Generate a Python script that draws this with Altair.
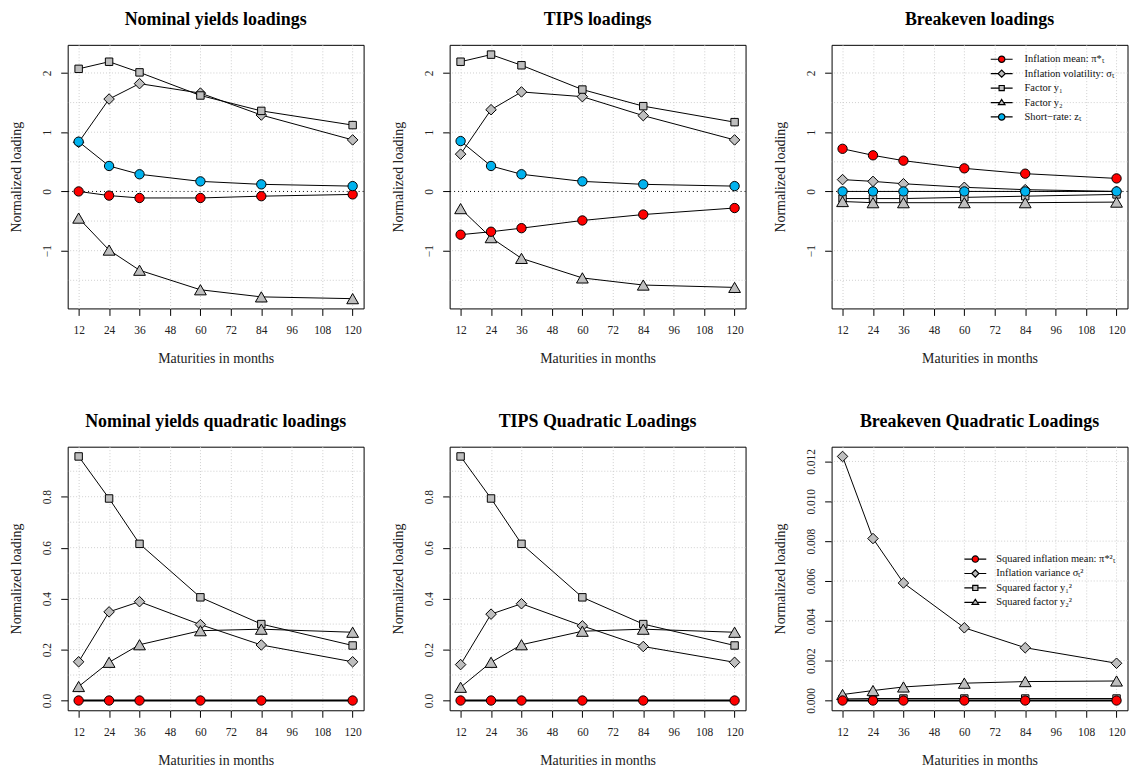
import altair as alt
import pandas as pd

# ---------------- data ----------------
MATURITIES = [12, 24, 36, 60, 84, 120]
X_TICKS = [12, 24, 36, 48, 60, 72, 84, 96, 108, 120]

TOP_NAMES = ["Inflation mean: π*ₜ", "Inflation volatility: σₜ", "Factor y₁",
             "Factor y₂", "Short−rate: zₜ"]
BOT_NAMES = ["Squared inflation mean: π*²ₜ", "Inflation variance σₜ²",
             "Squared factor y₁²", "Squared factor y₂²"]

# Nominal yields loadings
nom_mean = [0.00, -0.07, -0.11, -0.11, -0.08, -0.05]
nom_vol = [0.83, 1.56, 1.82, 1.66, 1.29, 0.87]
nom_y1 = [2.07, 2.19, 2.01, 1.62, 1.36, 1.12]
nom_y2 = [-0.45, -0.99, -1.33, -1.66, -1.78, -1.81]
nom_z = [0.84, 0.43, 0.29, 0.17, 0.12, 0.09]

# TIPS loadings
tips_mean = [-0.73, -0.68, -0.62, -0.49, -0.39, -0.28]
tips_vol = [0.63, 1.38, 1.68, 1.60, 1.28, 0.87]
tips_y1 = [2.19, 2.31, 2.13, 1.72, 1.44, 1.17]
tips_y2 = [-0.29, -0.78, -1.13, -1.46, -1.58, -1.62]
tips_z = [0.85, 0.43, 0.29, 0.17, 0.12, 0.09]

# Breakeven loadings
be_mean = [0.72, 0.61, 0.52, 0.39, 0.30, 0.22]
be_vol = [0.20, 0.17, 0.13, 0.07, 0.03, 0.00]
be_y1 = [-0.12, -0.12, -0.12, -0.10, -0.08, -0.05]
be_y2 = [-0.17, -0.19, -0.19, -0.19, -0.19, -0.18]
be_z = [0.00, 0.00, 0.00, 0.00, 0.00, 0.00]

# Nominal yields quadratic loadings
nq_mean = [0.0, 0.0, 0.0, 0.0, 0.0, 0.0]
nq_vol = [0.152, 0.348, 0.388, 0.298, 0.218, 0.152]
nq_y1 = [0.958, 0.793, 0.615, 0.405, 0.300, 0.216]
nq_y2 = [0.055, 0.150, 0.219, 0.274, 0.280, 0.268]

# TIPS quadratic loadings
tq_mean = [0.0, 0.0, 0.0, 0.0, 0.0, 0.0]
tq_vol = [0.141, 0.339, 0.380, 0.293, 0.212, 0.150]
tq_y1 = [0.958, 0.793, 0.615, 0.405, 0.300, 0.216]
tq_y2 = [0.052, 0.150, 0.219, 0.272, 0.280, 0.268]

# Breakeven quadratic loadings
bq_mean = [0.0, 0.0, 0.0, 0.0, 0.0, 0.0]
bq_vol = [0.01225, 0.00813, 0.00590, 0.00365, 0.00265, 0.00187]
bq_y1 = [0.00008, 0.00010, 0.00010, 0.00010, 0.00010, 0.00010]
bq_y2 = [0.00030, 0.00050, 0.00068, 0.00087, 0.00095, 0.00098]

# ---------------- styles ----------------
SERIF = "Liberation Serif"
RED, GRAY, CYAN = "#FF0000", "#BEBEBE", "#00B2EE"
TOP_FILLS = [RED, GRAY, GRAY, GRAY, CYAN]
TOP_SHAPES = ["circle", "diamond", "square", "triangle-up", "circle"]
BOT_FILLS = [RED, GRAY, GRAY, GRAY]
BOT_SHAPES = ["circle", "diamond", "square", "triangle-up"]
SIZES = {"circle": 88, "diamond": 112, "square": 56, "triangle-up": 140}
DRAW_ORDER = [1, 2, 3, 0, 4]

# legend symbols: line with marker (custom paths)
LEG_PATHS = {
    "circle": "M-2.2,0H-0.64M0.64,0H2.2M0.64,0A0.64,0.64,0,1,1,-0.64,0A0.64,0.64,0,1,1,0.64,0Z",
    "diamond": "M-2.2,0H-0.72M0.72,0H2.2M-0.72,0L0,-0.72L0.72,0L0,0.72Z",
    "square": "M-2.2,0H-0.52M0.52,0H2.2M-0.52,-0.52H0.52V0.52H-0.52Z",
    "triangle-up": "M-2.2,0H-0.39M0.39,0H2.2M0,-0.62L0.66,0.42L-0.66,0.42Z",
}

XDOM = [7.68, 124.32]


def panel(title, names, series, fills, shapes, ydom, yvals, yfmt, ygrid,
          zero_line=False, legend_xy=None, label_offset=15, thick_mean=False):
    rows = []
    for name, vals in zip(names, series):
        for m, v in zip(MATURITIES, vals):
            rows.append({"series": name, "maturity": m, "value": v})
    df = pd.DataFrame(rows)

    xaxis = alt.Axis(values=X_TICKS, title="Maturities in months", grid=True,
                     gridDash=[1, 2], gridColor="#CFCFCF", gridWidth=1,
                     labelPadding=9, titlePadding=16, labelAngle=0)
    yaxis = alt.Axis(values=yvals, format=yfmt, title="Normalized loading",
                     grid=False, labelAngle=270, labelPadding=8, titlePadding=18)
    xscale = alt.Scale(domain=XDOM, nice=False, zero=False)
    yscale = alt.Scale(domain=ydom, nice=False, zero=False)

    def X(f="maturity"):
        return alt.X(f"{f}:Q", scale=xscale, axis=xaxis)

    def Y(f="value"):
        return alt.Y(f"{f}:Q", scale=yscale, axis=yaxis)

    layers = []
    gdf = pd.DataFrame({"g": ygrid})
    layers.append(alt.Chart(gdf).mark_rule(color="#CFCFCF", strokeDash=[1, 2],
                                           strokeWidth=1).encode(y=Y("g")))
    if zero_line:
        zdf = pd.DataFrame({"z": [0.0]})
        layers.append(alt.Chart(zdf).mark_rule(color="black", strokeDash=[1, 3],
                                               strokeWidth=1).encode(y=Y("z")))
    if legend_xy is not None:
        lx, ly = legend_xy
        leg = alt.Legend(title=None, orient="none", legendX=lx, legendY=ly,
                         padding=0, labelFont=SERIF, labelFontSize=10.5,
                         labelColor="#111", symbolSize=100, symbolStrokeWidth=1.2,
                         symbolOpacity=1, labelOffset=label_offset, rowPadding=2.5,
                         labelLimit=400)
        paths = [LEG_PATHS[s] for s in shapes]
        layers.append(
            alt.Chart(df).mark_point(opacity=0, filled=True).encode(
                x=X(), y=Y(),
                shape=alt.Shape("series:N", sort=names,
                                scale=alt.Scale(domain=names, range=paths), legend=leg),
                fill=alt.Fill("series:N", sort=names,
                              scale=alt.Scale(domain=names, range=fills), legend=leg),
                stroke=alt.Stroke("series:N", sort=names,
                                  scale=alt.Scale(domain=names, range=["black"] * len(names)),
                                  legend=leg),
            )
        )
    order = [i for i in DRAW_ORDER if i < len(names)]
    for i in order:
        name, fill, shp = names[i], fills[i], shapes[i]
        sub = df[df["series"] == name]
        base = alt.Chart(sub)
        lw = 2 if (thick_mean and i == 0) else 1
        layers.append(base.mark_line(color="black", strokeWidth=lw).encode(x=X(), y=Y()))
        layers.append(base.mark_point(shape=shp, filled=True, fill=fill, stroke="black",
                                      strokeWidth=1, size=SIZES[shp], opacity=1)
                      .encode(x=X(), y=Y()))
    ch = alt.layer(*layers).properties(
        width=297.5, height=265,
        title=alt.TitleParams(text=title, font=SERIF, fontSize=18, fontWeight="bold",
                              color="black", anchor="middle", offset=15.5),
    )
    if legend_xy is not None:
        ch = ch.resolve_scale(shape="independent", fill="independent", stroke="independent")
    return ch


TOP_DOM = [-1.975, 2.475]
TOP_VALS = [-1, 0, 1, 2]
TOP_GRID = [-1.5, -1.0, -0.5, 0.5, 1.0, 1.5, 2.0]
Q_DOM = [-0.0383, 0.9963]
Q_VALS = [0.0, 0.2, 0.4, 0.6, 0.8]
Q_GRID = [0.1, 0.2, 0.3, 0.4, 0.5, 0.6, 0.7, 0.8, 0.9]
BQ_DOM = [-0.00049, 0.01274]
BQ_VALS = [0.0, 0.002, 0.004, 0.006, 0.008, 0.010, 0.012]
BQ_GRID = [0.002, 0.004, 0.006, 0.008, 0.010, 0.012]

p1 = panel("Nominal yields loadings", TOP_NAMES, [nom_mean, nom_vol, nom_y1, nom_y2, nom_z],
           TOP_FILLS, TOP_SHAPES, TOP_DOM, TOP_VALS, "d", TOP_GRID, zero_line=True)
p2 = panel("TIPS loadings", TOP_NAMES, [tips_mean, tips_vol, tips_y1, tips_y2, tips_z],
           TOP_FILLS, TOP_SHAPES, TOP_DOM, TOP_VALS, "d", TOP_GRID, zero_line=True)
p3 = panel("Breakeven loadings", TOP_NAMES, [be_mean, be_vol, be_y1, be_y2, be_z],
           TOP_FILLS, TOP_SHAPES, TOP_DOM, TOP_VALS, "d", TOP_GRID, zero_line=True,
           legend_xy=(165, 8.5), label_offset=17)
p4 = panel("Nominal yields quadratic loadings", BOT_NAMES, [nq_mean, nq_vol, nq_y1, nq_y2],
           BOT_FILLS, BOT_SHAPES, Q_DOM, Q_VALS, ".1f", Q_GRID, thick_mean=True)
p5 = panel("TIPS Quadratic Loadings", BOT_NAMES, [tq_mean, tq_vol, tq_y1, tq_y2],
           BOT_FILLS, BOT_SHAPES, Q_DOM, Q_VALS, ".1f", Q_GRID, thick_mean=True)
p6 = panel("Breakeven Quadratic Loadings", BOT_NAMES, [bq_mean, bq_vol, bq_y1, bq_y2],
           BOT_FILLS, BOT_SHAPES, BQ_DOM, BQ_VALS, ".3f", BQ_GRID,
           legend_xy=(138.5, 107), label_offset=15, thick_mean=True)

chart = alt.concat(
    p1, p2, p3, p4, p5, p6, columns=3,
    spacing=alt.RowColnumber(row=139, column=86), bounds="flush",
).resolve_scale(
    x="independent", y="independent", shape="independent", fill="independent",
    stroke="independent",
).resolve_legend(
    shape="independent", fill="independent", stroke="independent"
).properties(
    padding={"left": 1, "top": 1, "right": 0, "bottom": 0},
    background="white",
).configure_view(
    stroke="black", strokeWidth=1
).configure_axis(
    labelFont=SERIF, labelFontSize=11.5, labelColor="#222",
    titleFont=SERIF, titleFontSize=14, titleFontWeight="normal", titleColor="#222",
    tickColor="black", tickSize=7, tickWidth=1, domain=False,
)

chart.save("out.html", embed_options={"renderer": "svg", "actions": False})
